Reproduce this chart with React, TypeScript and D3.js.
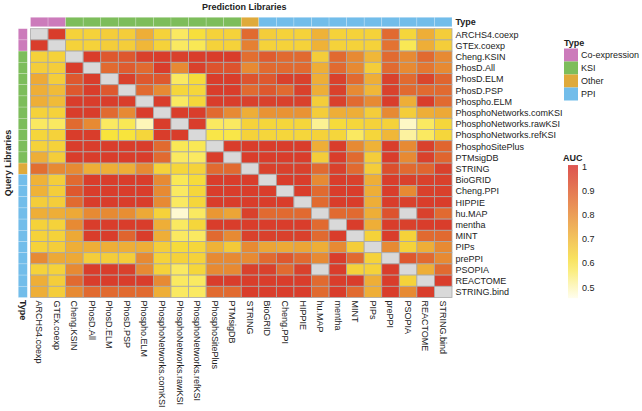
import React from "react";
import * as d3 from "d3";

const libraries = [
  "ARCHS4.coexp", "GTEx.coexp", "Cheng.KSIN", "PhosD.All", "PhosD.ELM", "PhosD.PSP",
  "Phospho.ELM", "PhosphoNetworks.comKSI", "PhosphoNetworks.rawKSI", "PhosphoNetworks.refKSI",
  "PhosphoSitePlus", "PTMsigDB", "STRING", "BioGRID", "Cheng.PPI", "HIPPIE", "hu.MAP",
  "mentha", "MINT", "PIPs", "prePPI", "PSOPIA", "REACTOME", "STRING.bind",
];

const libTypes = [
  "Co-expression", "Co-expression", "KSI", "KSI", "KSI", "KSI", "KSI", "KSI", "KSI", "KSI",
  "KSI", "KSI", "Other", "PPI", "PPI", "PPI", "PPI", "PPI", "PPI", "PPI", "PPI", "PPI", "PPI", "PPI",
];

const typeNames = ["Co-expression", "KSI", "Other", "PPI"];
const typeColors = ["#cc7bbb", "#7dbd5b", "#dfaa3b", "#72bdea"];

const aucTicks = [1, 0.9, 0.8, 0.7, 0.6, 0.5];

// rows = query libraries, columns = prediction libraries (null = NA)
const auc: (number | null)[][] = [
  [null, 0.97, 0.64, 0.64, 0.65, 0.65, 0.72, 0.64, 0.57, 0.61, 0.64, 0.64, 0.87, 0.65, 0.64, 0.64, 0.71, 0.64, 0.64, 0.64, 0.87, 0.63, 0.72, 0.65],
  [0.97, null, 0.64, 0.64, 0.65, 0.65, 0.70, 0.64, 0.57, 0.58, 0.64, 0.64, 0.82, 0.64, 0.64, 0.64, 0.71, 0.64, 0.64, 0.64, 0.85, 0.58, 0.72, 0.65],
  [0.64, 0.64, null, 0.97, 0.91, 0.91, 0.96, 0.97, 0.96, 0.97, 0.97, 0.97, 0.86, 0.90, 0.87, 0.87, 0.65, 0.87, 0.80, 0.70, 0.87, 0.80, 0.87, 0.80],
  [0.65, 0.65, 0.97, null, 0.87, 0.90, 0.87, 0.97, 0.80, 0.96, 0.92, 0.92, 0.80, 0.87, 0.87, 0.87, 0.72, 0.87, 0.80, 0.65, 0.87, 0.80, 0.84, 0.80],
  [0.73, 0.65, 0.91, 0.97, null, 0.96, 0.91, 0.91, 0.57, 0.62, 0.97, 0.97, 0.92, 0.91, 0.96, 0.96, 0.72, 0.96, 0.87, 0.72, 0.96, 0.87, 0.95, 0.88],
  [0.72, 0.69, 0.91, 0.97, 0.91, null, 0.87, 0.80, 0.63, 0.63, 0.97, 0.97, 0.87, 0.91, 0.87, 0.96, 0.72, 0.96, 0.80, 0.70, 0.96, 0.87, 0.87, 0.87],
  [0.72, 0.69, 0.97, 0.97, 0.97, 0.97, null, 0.97, 0.57, 0.63, 0.97, 0.97, 0.96, 0.96, 0.96, 0.96, 0.65, 0.96, 0.87, 0.80, 0.97, 0.72, 0.97, 0.87],
  [0.64, 0.64, 0.97, 0.97, 0.87, 0.80, 0.97, null, 0.97, 0.97, 0.87, 0.80, 0.72, 0.78, 0.78, 0.78, 0.65, 0.72, 0.72, 0.65, 0.80, 0.65, 0.72, 0.73],
  [0.57, 0.57, 0.87, 0.80, 0.57, 0.58, 0.50, 0.97, null, 0.97, 0.57, 0.57, 0.64, 0.63, 0.63, 0.63, 0.53, 0.62, 0.63, 0.64, 0.64, 0.49, 0.57, 0.63],
  [0.63, 0.64, 0.97, 0.97, 0.60, 0.60, 0.63, 0.97, 0.97, null, 0.59, 0.59, 0.64, 0.63, 0.63, 0.63, 0.64, 0.63, 0.57, 0.63, 0.70, 0.52, 0.57, 0.63],
  [0.64, 0.64, 0.97, 0.97, 0.97, 0.97, 0.97, 0.87, 0.58, 0.58, null, 0.97, 0.97, 0.97, 0.97, 0.97, 0.72, 0.97, 0.80, 0.71, 0.97, 0.80, 0.96, 0.88],
  [0.72, 0.65, 0.97, 0.97, 0.97, 0.97, 0.97, 0.87, 0.57, 0.57, 0.97, null, 0.97, 0.97, 0.97, 0.97, 0.65, 0.97, 0.87, 0.65, 0.97, 0.80, 0.96, 0.88],
  [0.86, 0.80, 0.80, 0.72, 0.72, 0.72, 0.80, 0.64, 0.63, 0.64, 0.87, 0.87, null, 0.96, 0.96, 0.96, 0.87, 0.96, 0.87, 0.65, 0.93, 0.87, 0.88, 0.96],
  [0.71, 0.65, 0.87, 0.97, 0.97, 0.97, 0.97, 0.80, 0.58, 0.62, 0.97, 0.97, 0.97, null, 0.97, 0.97, 0.80, 0.97, 0.96, 0.72, 0.97, 0.96, 0.96, 0.96],
  [0.71, 0.65, 0.91, 0.97, 0.97, 0.97, 0.97, 0.80, 0.57, 0.63, 0.97, 0.97, 0.97, 0.97, null, 0.97, 0.87, 0.97, 0.97, 0.72, 0.97, 0.80, 0.96, 0.96],
  [0.65, 0.65, 0.87, 0.97, 0.97, 0.97, 0.97, 0.80, 0.57, 0.63, 0.97, 0.97, 0.97, 0.97, 0.97, null, 0.87, 0.97, 0.97, 0.72, 0.97, 0.96, 0.97, 0.97],
  [0.72, 0.72, 0.73, 0.80, 0.80, 0.79, 0.73, 0.64, 0.48, 0.57, 0.77, 0.74, 0.96, 0.87, 0.87, 0.87, null, 0.87, 0.87, 0.72, 0.92, null, 0.96, 0.87],
  [0.64, 0.64, 0.80, 0.97, 0.97, 0.97, 0.97, 0.72, 0.57, 0.63, 0.97, 0.97, 0.97, 0.97, 0.97, 0.97, 0.87, null, 0.97, 0.72, 0.97, 0.96, 0.97, 0.97],
  [0.64, 0.64, 0.73, 0.97, 0.97, 0.88, 0.97, 0.72, 0.57, 0.57, 0.87, 0.80, 0.96, 0.96, 0.96, 0.96, 0.87, 0.97, null, 0.64, 0.97, 0.64, 0.87, 0.87],
  [0.64, 0.65, 0.72, 0.72, 0.72, 0.72, 0.72, 0.65, 0.62, 0.63, 0.71, 0.66, 0.80, 0.74, 0.73, 0.74, 0.72, 0.80, 0.65, null, 0.80, 0.64, 0.72, 0.80],
  [0.80, 0.73, 0.73, 0.65, 0.65, 0.65, 0.80, 0.64, 0.64, 0.64, 0.80, 0.80, 0.80, 0.87, 0.91, 0.87, 0.80, 0.97, 0.87, 0.64, null, 0.91, 0.87, 0.80],
  [0.64, 0.64, 0.80, 0.97, 0.97, 0.96, 0.80, 0.64, 0.57, 0.63, 0.80, 0.80, 0.96, 0.96, 0.87, 0.96, null, 0.97, 0.64, 0.64, 0.97, null, 0.72, 0.87],
  [0.72, 0.65, 0.87, 0.97, 0.97, 0.97, 0.97, 0.80, 0.57, 0.57, 0.97, 0.97, 0.97, 0.97, 0.97, 0.97, 0.87, 0.97, 0.97, 0.72, 0.97, 0.64, null, 0.97],
  [0.72, 0.65, 0.80, 0.87, 0.87, 0.87, 0.87, 0.72, 0.57, 0.57, 0.87, 0.87, 0.97, 0.97, 0.97, 0.97, 0.87, 0.97, 0.87, 0.72, 0.97, 0.80, 0.97, null],
];

const FONT = "'Liberation Sans', Arial, Helvetica, sans-serif";

export default function App() {
  const gx0 = 30.5, gx1 = 452, gy0 = 28.7, gy1 = 297.5;
  const x = d3.scaleBand<string>().domain(libraries).range([gx0, gx1]);
  const y = d3.scaleBand<string>().domain(libraries).range([gy0, gy1]);
  const color = d3
    .scaleLinear<string>()
    .domain([0.46, 0.6, 1])
    .range(["#fffdea", "#f8e43c", "#d62f2a"])
    .clamp(true);
  const typeColor = d3.scaleOrdinal<string, string>().domain(typeNames).range(typeColors);

  const legY = d3.scaleLinear().domain([1, 0.5]).range([166.5, 287.3]);
  const barTop = legY(1.006);
  const barBot = legY(0.455);
  const gradStops = d3.range(0, 11).map((i) => 0.455 + (i / 10) * (1.006 - 0.455));

  const cw = x.bandwidth();
  const ch = y.bandwidth();

  return (
    <svg
      width={642}
      height={411}
      style={{ position: "absolute", left: 0, top: 0, background: "#fff" }}
      fontFamily={FONT}
    >
      <defs>
        <linearGradient id="aucGrad" x1="0" y1="1" x2="0" y2="0">
          {gradStops.map((v, i) => (
            <stop key={i} offset={`${(i / 10) * 100}%`} stopColor={color(v)} />
          ))}
        </linearGradient>
      </defs>

      {/* title */}
      <text x={(gx0 + gx1) / 2 + 3} y={9.5} fontSize={9} fontWeight="bold" textAnchor="middle" fill="#222">
        Prediction Libraries
      </text>
      <text
        transform={`translate(10.5, ${(gy0 + gy1) / 2}) rotate(-90)`}
        fontSize={9}
        fontWeight="bold"
        textAnchor="middle"
        fill="#222"
      >
        Query Libraries
      </text>

      {/* top annotation */}
      {libraries.map((lib, i) => (
        <rect
          key={"ta" + lib}
          x={x(lib)}
          y={17.3}
          width={cw}
          height={9.4}
          fill={typeColor(libTypes[i])}
          stroke="#ffffff"
          strokeOpacity={0.35}
          strokeWidth={0.6}
        />
      ))}
      <text x={455.5} y={25.3} fontSize={9} fontWeight="bold" fill="#222">
        Type
      </text>

      {/* left annotation */}
      {libraries.map((lib, i) => (
        <rect
          key={"la" + lib}
          x={18.3}
          y={y(lib)}
          width={9}
          height={ch}
          fill={typeColor(libTypes[i])}
          stroke="#ffffff"
          strokeOpacity={0.35}
          strokeWidth={0.6}
        />
      ))}
      <text transform={`translate(19.5, 300) rotate(90)`} fontSize={9} fontWeight="bold" fill="#222">
        Type
      </text>

      {/* heatmap cells */}
      {auc.map((row, ri) =>
        row.map((v, ci) => (
          <rect
            key={`c${ri}-${ci}`}
            x={x(libraries[ci])}
            y={y(libraries[ri])}
            width={cw}
            height={ch}
            fill={v == null ? "#d9d9d9" : color(v)}
            stroke="#a9a9a9"
            strokeWidth={0.8}
          />
        ))
      )}

      {/* row labels */}
      {libraries.map((lib) => (
        <text
          key={"rl" + lib}
          x={455.5}
          y={(y(lib) as number) + ch / 2 + 3.2}
          fontSize={9}
          fill="#222"
        >
          {lib}
        </text>
      ))}

      {/* column labels */}
      {libraries.map((lib) => (
        <text
          key={"cl" + lib}
          transform={`translate(${(x(lib) as number) + cw / 2 - 3.2}, 300.5) rotate(90)`}
          fontSize={9}
          fill="#222"
        >
          {lib}
        </text>
      ))}

      {/* Type legend */}
      <text x={564} y={46} fontSize={9} fontWeight="bold" fill="#222">
        Type
      </text>
      {typeNames.map((t, i) => (
        <g key={"lg" + t}>
          <rect x={564} y={48.5 + i * 13} width={14} height={13} fill={typeColor(t)} />
          <text x={581} y={48.5 + i * 13 + 9.8} fontSize={9} fill="#222">
            {t}
          </text>
        </g>
      ))}

      {/* AUC legend */}
      <text x={563} y={161} fontSize={9} fontWeight="bold" fill="#222">
        AUC
      </text>
      <rect x={568} y={barTop} width={10} height={barBot - barTop} fill="url(#aucGrad)" opacity={0.82} />
      {aucTicks.map((t) => (
        <text key={"at" + t} x={582} y={legY(t) + 3.2} fontSize={9} fill="#222">
          {t}
        </text>
      ))}
    </svg>
  );
}
